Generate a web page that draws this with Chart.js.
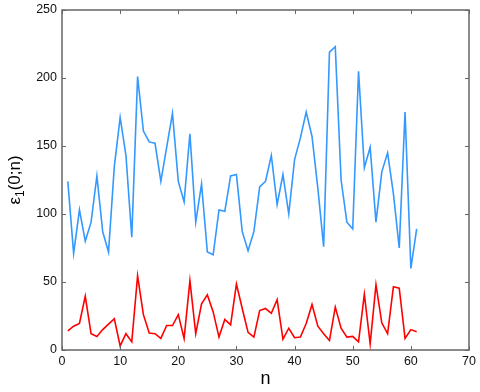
<!DOCTYPE html>
<html>
<head>
<meta charset="utf-8">
<script src="https://cdn.jsdelivr.net/npm/chart.js@4.4.1/dist/chart.umd.min.js"></script>
<style>
  html, body { margin: 0; padding: 0; background: #fff; }
  #wrap { width: 480px; height: 392px; position: relative; }
</style>
</head>
<body>
<div id="wrap"><canvas id="chart" width="480" height="392"></canvas></div>
<script>
// n = 1..61
const nValues = Array.from({ length: 61 }, (_, i) => i + 1);

const blueVals = [124,71,103,80,94,128,87,72,135,171,
                  143,83,201,161,153,152,124,149,174,124,
                  109,159,94,122,72,70,103,102,128,129,
                  87,73,87,120,124,143,107,129,100,140,
                  156,175,157,119,76,219,223,125,94,89,
                  205,134,149,94,131,145,115,75,175,60,89];

const redVals = [14,17.5,19.5,39.5,12,10,15,19,23,3,
                 12,6,54.5,26,12.5,12,8.5,18,18,26,
                 8.5,51,12,34,40.5,28,9.5,22.5,18.5,48.5,
                 30.5,13,9.5,29,30.5,27,37,8,16,9,
                 9.5,19.5,33.5,17.5,12,7,31.5,16,9.5,10,
                 6,41,4.5,48,20,12,46.5,45.5,8.5,15,13.5];

const xTicks = [0,10,20,30,40,50,60,70];
const yTicks = [0,50,100,150,200,250];

const FONT = 'Liberation Sans, Arial, Helvetica, sans-serif';

// box around plot + inward ticks on all four sides, and the y label with subscript
const boxPlugin = {
    id: 'box',
    afterDraw(chart) {
        const { ctx, chartArea: a, scales } = chart;
        ctx.save();
        ctx.strokeStyle = '#666';
        ctx.lineWidth = 1.5;
        ctx.strokeRect(a.left, a.top, a.right - a.left, a.bottom - a.top);
        ctx.lineWidth = 1;
        const len = 4;
        ctx.beginPath();
        xTicks.forEach(v => {
            const x = Math.round(scales.x.getPixelForValue(v)) + 0.5;
            ctx.moveTo(x, a.bottom); ctx.lineTo(x, a.bottom - len);
            ctx.moveTo(x, a.top); ctx.lineTo(x, a.top + len);
        });
        yTicks.forEach(v => {
            const y = Math.round(scales.y.getPixelForValue(v)) + 0.5;
            ctx.moveTo(a.left, y); ctx.lineTo(a.left + len, y);
            ctx.moveTo(a.right, y); ctx.lineTo(a.right - len, y);
        });
        ctx.stroke();

        // y axis label: ε₁(0;n) drawn rotated, with a real subscript
        ctx.translate(14, (a.top + a.bottom) / 2);
        ctx.rotate(-Math.PI / 2);
        ctx.fillStyle = '#000';
        ctx.textBaseline = 'alphabetic';
        const big = '17px ' + FONT, small = '12px ' + FONT;
        ctx.font = big; const w1 = ctx.measureText('ε').width;
        ctx.font = small; const w2 = ctx.measureText('1').width;
        ctx.font = big; const w3 = ctx.measureText('(0;n)').width;
        let x0 = -(w1 + w2 + w3) / 2;
        ctx.font = big; ctx.fillText('ε', x0, 6);
        ctx.font = small; ctx.fillText('1', x0 + w1, 10);
        ctx.font = big; ctx.fillText('(0;n)', x0 + w1 + w2, 6);
        ctx.restore();
    }
};

new Chart(document.getElementById('chart'), {
    type: 'line',
    data: {
        labels: nValues,
        datasets: [
            { data: nValues.map((n, i) => ({ x: n, y: blueVals[i] })), borderColor: '#3399ff', borderWidth: 1.6, pointRadius: 0, tension: 0, fill: false },
            { data: nValues.map((n, i) => ({ x: n, y: redVals[i] })), borderColor: '#ff0000', borderWidth: 1.6, pointRadius: 0, tension: 0, fill: false }
        ]
    },
    options: {
        responsive: false,
        animation: false,
        layout: { padding: { left: 30, right: 11, top: 10, bottom: 0 } },
        plugins: { legend: { display: false }, tooltip: { enabled: false } },
        scales: {
            x: {
                type: 'linear', min: 0, max: 70,
                afterBuildTicks: s => { s.ticks = xTicks.map(v => ({ value: v })); },
                afterFit: s => { s.height = 42; s.paddingLeft = 0; s.paddingRight = 0; },
                grid: { display: false, drawTicks: false },
                border: { display: false },
                ticks: { color: '#111', font: { family: FONT, size: 12.5 }, padding: 4, maxRotation: 0 },
                title: { display: true, text: 'n', color: '#000', font: { family: FONT, size: 18 }, padding: { top: 0, bottom: 2 } }
            },
            y: {
                min: 0, max: 250,
                afterBuildTicks: s => { s.ticks = yTicks.map(v => ({ value: v })); },
                afterFit: s => { s.width = 32; s.paddingTop = 0; s.paddingBottom = 0; },
                grid: { display: false, drawTicks: false },
                border: { display: false },
                ticks: { color: '#111', font: { family: FONT, size: 12.5 }, padding: 5 }
            }
        }
    },
    plugins: [boxPlugin]
});
</script>
</body>
</html>
